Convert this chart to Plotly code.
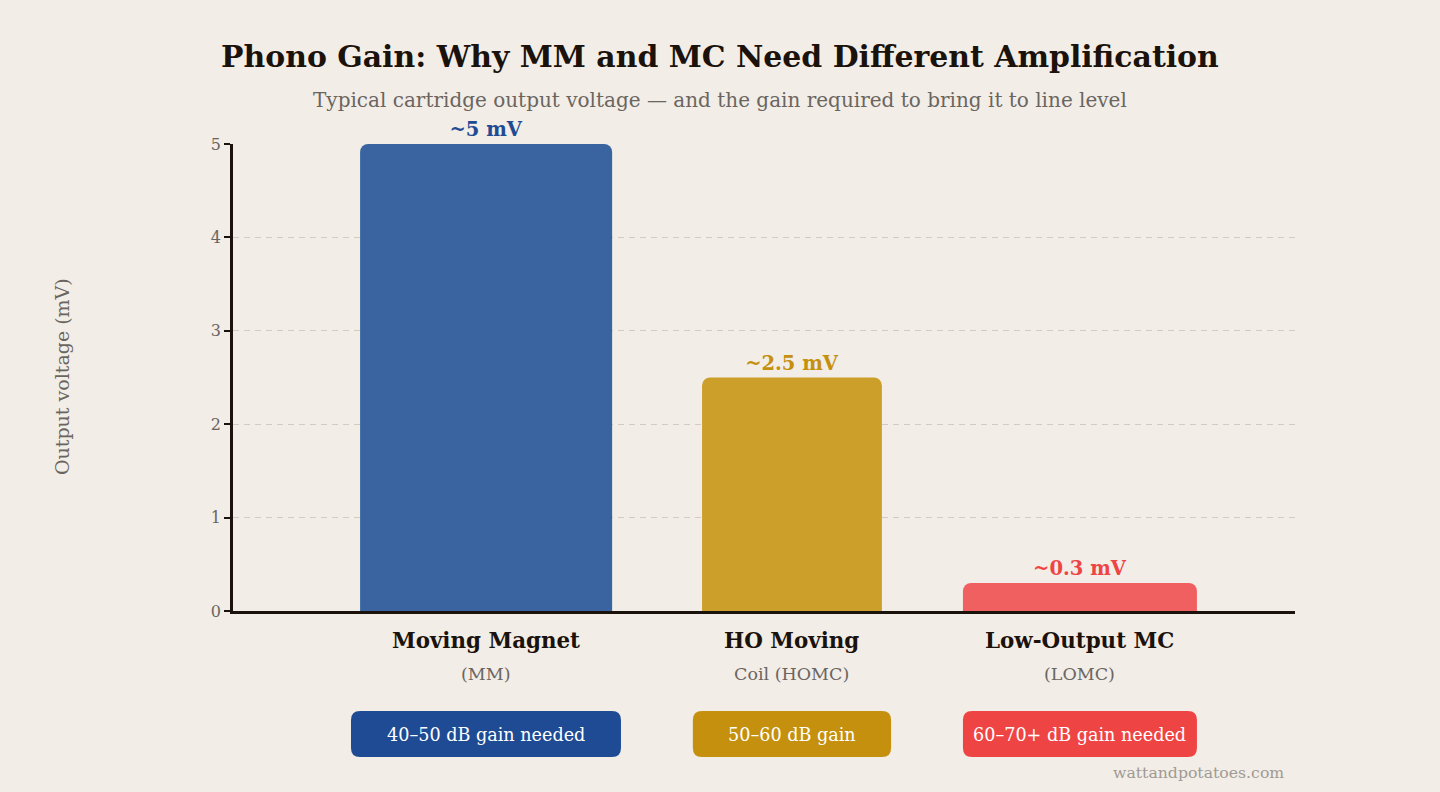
import plotly.graph_objects as go

# ---- data ----
categories = ["MM", "HOMC", "LOMC"]
output_mv = [5.0, 2.5, 0.3]
value_labels = ["~5 mV", "~2.5 mV", "~0.3 mV"]
name_lines = ["Moving Magnet", "HO Moving", "Low-Output MC"]
sub_lines = ["(MM)", "Coil (HOMC)", "(LOMC)"]
gain_labels = ["40–50 dB gain needed", "50–60 dB gain", "60–70+ dB gain needed"]
y_ticks = [0, 1, 2, 3, 4, 5]

# ---- style ----
FONT = "DejaVu Serif"
BG = "#f2ede7"
bar_colors = ["#3a64a0", "#cc9f2a", "#f06060"]
label_colors = ["#1e4b94", "#c4900e", "#ef4444"]
pill_colors = ["#1e4b94", "#c4900e", "#ef4444"]
bar_offsets = [-0.141, -0.175, -0.438]
bar_widths = [0.712, 0.508, 0.661]
pill_spans = [(-0.1667, 0.596), (0.799, 1.359), (1.562, 2.223)]

L, R, T, B = 233, 145, 144, 181
W, H = 1440, 792
plot_w = W - L - R
plot_h = H - T - B
px_x = plot_w / 3.0
base_y = T + plot_h


def px(xp):
    return (xp - L) / plot_w


def py(yp):
    return (base_y - yp) / plot_h


fig = go.Figure()
fig.add_trace(go.Bar(
    x=list(range(len(categories))),
    y=output_mv,
    offset=bar_offsets,
    width=bar_widths,
    marker=dict(color=bar_colors, line=dict(width=0)),
    text=value_labels,
    textposition="outside",
    textfont=dict(family=FONT, size=19.5, color=label_colors, weight="bold"),
    cliponaxis=False,
    hoverinfo="skip",
))

centers = [i + o + w / 2 for i, (o, w) in enumerate(zip(bar_offsets, bar_widths))]
pc = [(a + b) / 2 for a, b in pill_spans]

annotations = []
for i in range(len(categories)):
    annotations.append(dict(x=centers[i], y=py(640), xref="x", yref="paper",
                            text=name_lines[i], showarrow=False, yanchor="middle",
                            font=dict(family=FONT, size=21.4, color="#1a120b", weight="bold")))
    annotations.append(dict(x=centers[i], y=py(674), xref="x", yref="paper",
                            text=sub_lines[i], showarrow=False, yanchor="middle",
                            font=dict(family=FONT, size=17.5, color="#6b6560")))
    annotations.append(dict(x=pc[i], y=py(735), xref="x", yref="paper",
                            text=gain_labels[i], showarrow=False, yanchor="middle",
                            font=dict(family=FONT, size=17.6, color="#ffffff")))

annotations.append(dict(x=px(720), y=py(57), xref="paper", yref="paper",
                        text="Phono Gain: Why MM and MC Need Different Amplification",
                        showarrow=False, yanchor="middle",
                        font=dict(family=FONT, size=29.9, color="#1a120b", weight="bold")))
annotations.append(dict(x=px(720), y=py(100), xref="paper", yref="paper",
                        text="Typical cartridge output voltage — and the gain required to bring it to line level",
                        showarrow=False, yanchor="middle",
                        font=dict(family=FONT, size=20, color="#6b6560")))
annotations.append(dict(x=px(62), y=py(377), xref="paper", yref="paper",
                        text="Output voltage (mV)", textangle=-90, showarrow=False,
                        xanchor="center", yanchor="middle",
                        font=dict(family=FONT, size=19, color="#6b6560")))
annotations.append(dict(x=px(1286), y=py(772), xref="paper", yref="paper",
                        text="wattandpotatoes.com", showarrow=False,
                        xanchor="right", yanchor="middle",
                        font=dict(family=FONT, size=15.7, color="#a09a94")))

shapes = []
rx = 9 / px_x
ry = 9 / plot_h
for (x0, x1), col in zip(pill_spans, pill_colors):
    y0 = py(757)
    y1 = py(711)
    path = (f"M {x0+rx},{y0} L {x1-rx},{y0} Q {x1},{y0} {x1},{y0+ry} "
            f"L {x1},{y1-ry} Q {x1},{y1} {x1-rx},{y1} L {x0+rx},{y1} "
            f"Q {x0},{y1} {x0},{y1-ry} L {x0},{y0+ry} Q {x0},{y0} {x0+rx},{y0} Z")
    shapes.append(dict(type="path", path=path, xref="x", yref="paper",
                       fillcolor=col, line=dict(width=0), layer="below"))

fig.update_layout(
    width=W, height=H,
    paper_bgcolor=BG, plot_bgcolor=BG,
    margin=dict(l=L, r=R, t=T, b=B),
    showlegend=False,
    barcornerradius=8,
    annotations=annotations,
    shapes=shapes,
    font=dict(family=FONT),
    xaxis=dict(range=[-0.5, 2.5], showticklabels=False, ticks="", showgrid=False,
               zeroline=False, showline=True, linecolor="#1a120b", linewidth=2.5,
               fixedrange=True),
    yaxis=dict(range=[0, 5], tickvals=y_ticks, ticks="outside", ticklen=6, tickwidth=2,
               tickcolor="#1a120b", showline=True, linecolor="#1a120b", linewidth=2.5,
               showgrid=True, gridcolor="#d2cbc2", griddash="6px,5px", gridwidth=1.2,
               zeroline=False, tickfont=dict(family=FONT, size=16, color="#6b6560"),
               fixedrange=True),
)

fig.write_html(
    "out.html",
    config={"displayModeBar": False},
    post_script="document.body.style.margin='0';document.body.style.overflow='hidden';"
                "document.body.style.background='" + BG + "';",
)
